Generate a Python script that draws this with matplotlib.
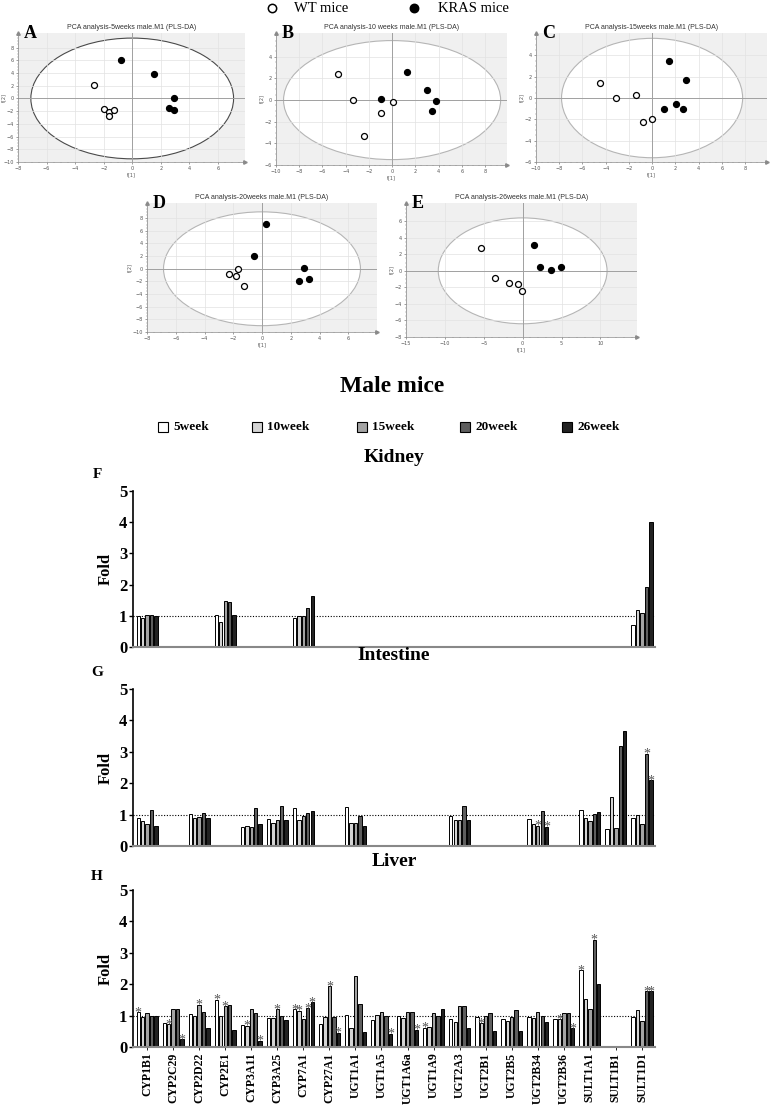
import numpy as np
import matplotlib
matplotlib.use('Agg')
import matplotlib.pyplot as plt
from matplotlib.patches import Ellipse
from matplotlib.lines import Line2D

# ---------------- PCA data ----------------
pca_titles = ["PCA analysis-5weeks male.M1 (PLS-DA)",
              "PCA analysis-10 weeks male.M1 (PLS-DA)",
              "PCA analysis-15weeks male.M1 (PLS-DA)",
              "PCA analysis-20weeks male.M1 (PLS-DA)",
              "PCA analysis-26weeks male.M1 (PLS-DA)"]
pca_letters = ["A", "B", "C", "D", "E"]

wt_x_A = [-2.7, -2.0, -1.6, -1.6, -1.3]
wt_y_A = [2.1, -1.7, -2.1, -2.8, -1.8]
kr_x_A = [-0.8, 1.5, 2.9, 2.6, 2.9]
kr_y_A = [6.0, 3.8, 0.0, -1.5, -1.8]

wt_x_B = [-4.7, -3.4, -0.95, 0.1, -2.4]
wt_y_B = [2.4, 0.0, -1.2, -0.2, -3.3]
kr_x_B = [1.3, 3.0, 3.8, 3.4, -0.95]
kr_y_B = [2.6, 0.9, -0.1, -1.0, 0.1]

wt_x_C = [-4.5, -3.1, -1.4, -0.75, 0.0]
wt_y_C = [1.4, 0.0, 0.3, -2.25, -2.0]
kr_x_C = [1.5, 2.9, 1.0, 2.1, 2.7]
kr_y_C = [3.45, 1.7, -1.05, -0.6, -1.0]

wt_x_D = [-2.3, -1.65, -1.8, -1.25]
wt_y_D = [-0.8, 0.0, -1.1, -2.75]
kr_x_D = [0.3, -0.55, 2.9, 2.55, 3.3]
kr_y_D = [7.1, 2.0, 0.1, -2.0, -1.6]

wt_x_E = [-5.4, -3.5, -1.8, -0.55, -0.1]
wt_y_E = [2.8, -0.9, -1.45, -1.6, -2.45]
kr_x_E = [1.45, 2.2, 3.6, 4.9]
kr_y_E = [3.1, 0.45, 0.05, 0.5]

# ellipse semi-axes (Hotelling T2)
ell_a = [7.1, 9.35, 7.8, 6.85, 10.85]
ell_b = [9.5, 5.5, 5.6, 9.0, 6.4]

# ---------------- bar data ----------------
genes = ["CYP1B1", "CYP2C29", "CYP2D22", "CYP2E1", "CYP3A11", "CYP3A25",
         "CYP7A1", "CYP27A1", "UGT1A1", "UGT1A5", "UGT1A6a", "UGT1A9",
         "UGT2A3", "UGT2B1", "UGT2B5", "UGT2B34", "UGT2B36", "SULT1A1",
         "SULT1B1", "SULT1D1"]
weeks = ["5week", "10week", "15week", "20week", "26week"]
nan = np.nan

# Kidney (F): values per week, one entry per gene
kid_5 = [1.00, nan, nan, 1.03, nan, nan, 0.94, nan, nan, nan, nan, nan, nan, nan, nan, nan, nan, nan, nan, 0.72]
kid_10 = [0.92, nan, nan, 0.81, nan, nan, 0.98, nan, nan, nan, nan, nan, nan, nan, nan, nan, nan, nan, nan, 1.19]
kid_15 = [1.03, nan, nan, 1.47, nan, nan, 0.98, nan, nan, nan, nan, nan, nan, nan, nan, nan, nan, nan, nan, 1.10]
kid_20 = [1.02, nan, nan, 1.45, nan, nan, 1.24, nan, nan, nan, nan, nan, nan, nan, nan, nan, nan, nan, nan, 1.93]
kid_26 = [0.99, nan, nan, 1.03, nan, nan, 1.62, nan, nan, nan, nan, nan, nan, nan, nan, nan, nan, nan, nan, 4.02]
kid_stars = []

# Intestine (G)
int_5 = [0.88, nan, 1.02, nan, 0.60, 0.87, 1.20, nan, 1.23, nan, nan, nan, 0.97, nan, nan, 0.86, nan, 1.15, 0.53, 0.90]
int_10 = [0.79, nan, 0.90, nan, 0.64, 0.72, 0.83, nan, 0.73, nan, nan, nan, 0.83, nan, nan, 0.70, nan, 0.88, 1.56, 1.00]
int_15 = [0.71, nan, 0.91, nan, 0.61, 0.84, 0.95, nan, 0.72, nan, nan, nan, 0.83, nan, nan, 0.64, nan, 0.80, 0.57, 0.71]
int_20 = [1.14, nan, 1.04, nan, 1.21, 1.27, 1.04, nan, 0.97, nan, nan, nan, 1.28, nan, nan, 1.12, nan, 1.01, 3.19, 2.94]
int_26 = [0.64, nan, 0.88, nan, 0.70, 0.82, 1.11, nan, 0.64, nan, nan, nan, 0.84, nan, nan, 0.61, nan, 1.09, 3.67, 2.09]
int_stars = [(15, 2), (15, 4), (19, 3), (19, 4)]

# Liver (H)
liv_5 = [1.10, 0.78, 1.05, 1.50, 0.70, 0.92, 1.20, 0.73, 1.03, 0.85, 0.98, 0.62, 0.90, 0.97, 0.90, 0.97, 0.88, 2.45, nan, 0.97]
liv_10 = [0.97, 0.72, 0.98, 1.00, 0.68, 0.93, 1.15, 0.97, 0.62, 1.03, 0.93, 0.63, 0.80, 0.75, 0.83, 0.92, 0.88, 1.54, nan, 1.18]
liv_15 = [1.08, 1.22, 1.35, 1.30, 1.20, 1.20, 0.90, 1.93, 2.27, 1.10, 1.10, 1.08, 1.32, 1.00, 0.95, 1.10, 1.07, 1.22, nan, 0.82]
liv_20 = [0.98, 1.22, 1.13, 1.35, 1.07, 1.00, 1.23, 0.95, 1.37, 0.98, 1.13, 0.98, 1.30, 1.08, 1.17, 0.98, 1.07, 3.41, nan, 1.78]
liv_26 = [1.00, 0.25, 0.62, 0.53, 0.20, 0.85, 1.42, 0.45, 0.48, 0.42, 0.55, 1.22, 0.62, 0.52, 0.50, 0.80, 0.60, 2.02, nan, 1.78]
liv_stars = [(0, 0), (1, 1), (1, 4), (2, 2), (3, 0), (3, 2), (4, 1), (4, 4), (5, 2),
             (6, 0), (6, 1), (6, 3), (6, 4), (7, 2), (7, 4), (9, 4), (10, 4), (11, 0),
             (13, 1), (16, 1), (16, 4), (17, 0), (17, 3), (19, 3), (19, 4)]

bar_colors = ["#ffffff", "#d4d4d4", "#a3a3a3", "#5e5e5e", "#222222"]

SERIF = "Liberation Serif"
SANS = "Liberation Sans"

W, H = 775, 1111
fig = plt.figure(figsize=(W / 100, H / 100), dpi=100)


def ax_px(l, t, r, b):
    return fig.add_axes([l / W, 1 - b / H, (r - l) / W, (b - t) / H])


def fx(x):
    return x / W


def fy(y):
    return 1 - y / H


# ---------------- PCA panels ----------------
pca_boxes = [(18, 33, 245, 162), (276, 33, 507, 165), (536, 33, 767, 162),
             (147, 203, 377, 332), (406, 203, 637, 337)]
pca_xlim = [(-8, 7.9), (-10, 9.9), (-10, 9.9), (-8, 8), (-15, 14.7)]
pca_ylim = [(-10, 10.3), (-6, 6.2), (-6, 6.1), (-10, 10.4), (-8, 8.2)]
pca_xt = [np.arange(-8, 7, 2), np.arange(-10, 9, 2), np.arange(-10, 9, 2),
          np.arange(-8, 7, 2), np.arange(-15, 11, 5)]
pca_yt = [np.arange(-10, 9, 2), np.arange(-6, 5, 2), np.arange(-6, 5, 2),
          np.arange(-10, 9, 2), np.arange(-8, 7, 2)]
pca_wt = [(wt_x_A, wt_y_A), (wt_x_B, wt_y_B), (wt_x_C, wt_y_C), (wt_x_D, wt_y_D), (wt_x_E, wt_y_E)]
pca_kr = [(kr_x_A, kr_y_A), (kr_x_B, kr_y_B), (kr_x_C, kr_y_C), (kr_x_D, kr_y_D), (kr_x_E, kr_y_E)]
ell_col = ["#4a4a4a", "#b5b5b5", "#b5b5b5", "#b5b5b5", "#b5b5b5"]

for i in range(5):
    ax = ax_px(*pca_boxes[i])
    ax.set_facecolor("#f0f0f0")
    ax.set_xlim(*pca_xlim[i])
    ax.set_ylim(*pca_ylim[i])
    ax.set_axisbelow('line')
    ax.add_patch(Ellipse((0, 0), 2 * ell_a[i], 2 * ell_b[i], facecolor="white",
                         edgecolor=ell_col[i], lw=0.8, zorder=1))
    ax.grid(True, color="#e2e2e2", lw=0.5)
    ax.axhline(0, color="#a0a0a0", lw=0.7, zorder=1.6)
    ax.axvline(0, color="#a0a0a0", lw=0.7, zorder=1.6)
    ax.plot(pca_wt[i][0], pca_wt[i][1], 'o', ms=4.3, mfc="white", mec="black", mew=0.9, zorder=3)
    ax.plot(pca_kr[i][0], pca_kr[i][1], 'o', ms=4.3, mfc="black", mec="black", mew=0.9, zorder=3)
    ax.set_xticks(pca_xt[i])
    ax.set_yticks(pca_yt[i])
    ax.minorticks_on()
    ax.tick_params(labelsize=3.5, colors="#555555", length=1.5, width=0.4, pad=1.5)
    ax.tick_params(which='minor', length=1, width=0.3, color="#777777")
    for s in ["top", "right"]:
        ax.spines[s].set_visible(False)
    for s in ["left", "bottom"]:
        ax.spines[s].set_color("#8a8a8a")
        ax.spines[s].set_linewidth(0.5)
    ax.plot(1, 0, '>', ms=2.5, color="#8a8a8a", transform=ax.transAxes, clip_on=False)
    ax.plot(0, 1, '^', ms=2.5, color="#8a8a8a", transform=ax.transAxes, clip_on=False)
    ax.set_xlabel("t[1]", fontsize=3.5, color="#555555", labelpad=0.5)
    ax.set_ylabel("t[2]", fontsize=3.5, color="#555555", labelpad=0.5)
    if i == 0:
        ax.yaxis.set_label_coords(-0.052, 0.5)
    ax.set_title(pca_titles[i], fontsize=5, family=SANS, color="#333333", pad=3)
    ax.text(0.025, 1.0, pca_letters[i], transform=ax.transAxes, fontsize=13,
            fontweight="bold", family=SERIF, va="center", ha="left", zorder=5)

# top legend (WT / KRAS)
fig.add_artist(Line2D([fx(272)], [fy(8)], marker='o', ms=6, mfc="white", mec="black", mew=1.1,
                      transform=fig.transFigure))
fig.text(fx(294), fy(8), "WT mice", fontsize=10.5, family=SERIF, va="center", ha="left")
fig.add_artist(Line2D([fx(414)], [fy(8)], marker='o', ms=6, mfc="black", mec="black", mew=1.1,
                      transform=fig.transFigure))
fig.text(fx(438), fy(8), "KRAS mice", fontsize=10.5, family=SERIF, va="center", ha="left")

# ---------------- Male mice header + bar legend ----------------
fig.text(fx(392), fy(386), "Male mice", fontsize=17, fontweight="bold", family=SERIF,
         ha="center", va="center")
leg_x = [163, 257, 362, 465, 567]
for w in range(5):
    fig.add_artist(Line2D([fx(leg_x[w])], [fy(427)], marker='s', ms=6.5, mfc=bar_colors[w],
                          mec="black", mew=0.8, transform=fig.transFigure))
    fig.text(fx(leg_x[w] + 10), fy(427), weeks[w], fontsize=9.5, fontweight="bold",
             family=SERIF, ha="left", va="center")

# ---------------- bar panels ----------------
tissues = [("Kidney", "F", [kid_5, kid_10, kid_15, kid_20, kid_26], kid_stars, 491, 647, 457, 475),
           ("Intestine", "G", [int_5, int_10, int_15, int_20, int_26], int_stars, 689, 846, 656, 673),
           ("Liver", "H", [liv_5, liv_10, liv_15, liv_20, liv_26], liv_stars, 890, 1047, 862, 877)]

xpos = np.arange(len(genes))
step = 0.17
bw = 0.13
for k, (name, letter, vals, stars, top, bot, ty, ly) in enumerate(tissues):
    ax = ax_px(133, top, 655, bot)
    for w in range(5):
        v = np.array(vals[w], dtype=float)
        m = ~np.isnan(v)
        ax.bar(xpos[m] + (w - 2) * step, v[m], width=bw, color=bar_colors[w],
               edgecolor="black", linewidth=0.7, zorder=2)
    for (g, w) in stars:
        val = vals[w][g]
        ax.text(g + (w - 2) * step, val - 0.13, "*", ha="center", va="baseline",
                fontsize=10, color="#555555", family=SERIF, zorder=3)
    ax.axhline(1, color="black", lw=0.8, ls=(0, (1, 1.5)), zorder=1)
    ax.set_xlim(-0.54, len(genes) - 0.5)
    ax.set_ylim(0, 5)
    ax.set_yticks(range(6))
    ax.set_yticklabels([str(t) for t in range(6)], fontsize=12, fontweight="bold", family=SERIF)
    ax.tick_params(axis='y', length=3, width=1, pad=1)
    for s in ["top", "right"]:
        ax.spines[s].set_visible(False)
    ax.spines["left"].set_linewidth(1.2)
    ax.spines["bottom"].set_linewidth(1.5)
    ax.spines["bottom"].set_color("#888888")
    ax.set_xticks(xpos)
    if letter == "H":
        ax.set_xticklabels(genes, rotation=90, fontsize=8.5, fontweight="bold", family=SERIF)
        ax.tick_params(axis='x', length=2, width=0.6, pad=2)
    else:
        ax.set_xticklabels([])
        ax.tick_params(axis='x', length=0)
    ax.set_ylabel("Fold", fontsize=12, fontweight="bold", family=SERIF, labelpad=4)
    fig.text(fx(394), fy(ty), name, fontsize=14, fontweight="bold", family=SERIF,
             ha="center", va="center")
    fig.text(fx(97), fy(ly), letter, fontsize=11, fontweight="bold", family=SERIF,
             ha="center", va="center")

fig.savefig("out.png", dpi=100)
